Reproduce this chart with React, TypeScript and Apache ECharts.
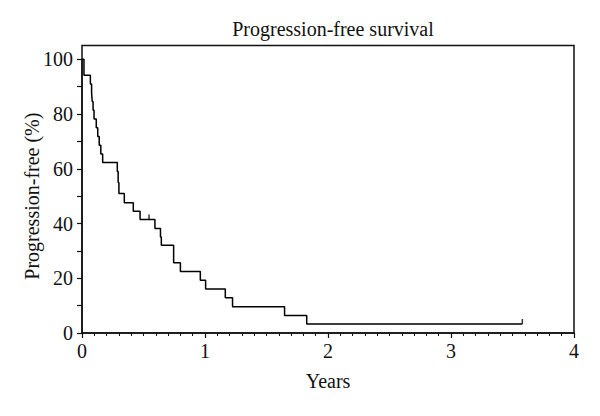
import React, { useEffect, useRef } from "react";
import * as echarts from "echarts";

const titleText = "Progression-free survival";
const xName = "Years";
const yName = "Progression-free (%)";

// Kaplan-Meier step points (time in years, survival %)
const times = [0, 0.016, 0.068, 0.078, 0.083, 0.09, 0.098, 0.116, 0.128, 0.14, 0.153, 0.168, 0.287, 0.294, 0.3, 0.344, 0.417, 0.472, 0.593, 0.638, 0.645, 0.745, 0.8, 0.962, 1.005, 1.165, 1.224, 1.647, 1.827, 3.58];
const survival = [100, 94.2, 91.0, 87.8, 84.6, 81.4, 78.2, 75.0, 71.8, 68.6, 65.4, 62.3, 59.0, 55.0, 51.0, 47.6, 44.5, 41.5, 38.2, 35.1, 32.1, 25.7, 22.5, 19.3, 16.1, 12.9, 9.6, 6.4, 3.3, 3.3];

// censored observations
const censorTimes = [0.545, 3.58];
const censorValues = [41.5, 3.3];

const xTicks = [0, 1, 2, 3, 4];
const yTicks = [0, 20, 40, 60, 80, 100];

const FONT = "Liberation Serif";

export default function App() {
  const ref = useRef<HTMLDivElement>(null);
  useEffect(() => {
    if (!ref.current) return;
    const chart = echarts.init(ref.current, undefined, { renderer: "svg" });
    const lineData = times.map((t, i) => [t, survival[i]]);
    const censorData = censorTimes.map((t, i) => [t, censorValues[i]]);
    chart.setOption({
      animation: false,
      backgroundColor: "#fff",
      textStyle: { fontFamily: FONT },
      title: {
        text: titleText,
        left: 328,
        top: 14,
        textAlign: "center",
        textStyle: { fontFamily: FONT, fontSize: 20, fontWeight: "normal", color: "#111" },
      },
      grid: { left: 82, right: 26, top: 59.3, bottom: 83, containLabel: false },
      xAxis: {
        type: "value",
        min: xTicks[0],
        max: xTicks[xTicks.length - 1],
        interval: 1,
        name: xName,
        nameLocation: "middle",
        nameGap: 38,
        nameMoveOverlap: false,
        nameTextStyle: { fontFamily: FONT, fontSize: 20, color: "#111" },
        axisLine: { show: true, onZero: false, lineStyle: { color: "#111", width: 1.5 } },
        axisTick: { show: true, length: 5, lineStyle: { color: "#111", width: 1.2 } },
        minorTick: { show: true, splitNumber: 10, length: 3, lineStyle: { color: "#111", width: 1 } },
        axisLabel: { fontFamily: FONT, fontSize: 20, color: "#111", margin: 8 },
        splitLine: { show: false },
      },
      yAxis: {
        type: "value",
        min: yTicks[0],
        max: yTicks[yTicks.length - 1],
        interval: 20,
        name: yName,
        nameLocation: "middle",
        nameGap: 40,
        nameMoveOverlap: false,
        nameRotate: 90,
        nameTextStyle: { fontFamily: FONT, fontSize: 20, color: "#111" },
        axisLine: { show: true, onZero: false, lineStyle: { color: "#111", width: 1.5 } },
        axisTick: { show: true, length: 5, lineStyle: { color: "#111", width: 1.2 } },
        minorTick: { show: true, splitNumber: 2, length: 5, lineStyle: { color: "#111", width: 1.2 } },
        axisLabel: { fontFamily: FONT, fontSize: 20, color: "#111", margin: 9 },
        splitLine: { show: false },
      },
      graphic: [
        {
          type: "rect",
          shape: { x: 82, y: 45.5, width: 492, height: 287.5 },
          style: { fill: "none", stroke: "#111", lineWidth: 1.5 },
          silent: true,
          z: 0,
        },
      ],
      series: [
        {
          type: "line",
          data: lineData,
          step: "end",
          showSymbol: false,
          clip: false,
          lineStyle: { color: "#000", width: 1.5 },
          z: 3,
        },
        {
          type: "scatter",
          data: censorData,
          symbol: "rect",
          symbolSize: [1.5, 5],
          symbolOffset: [0, -2.5],
          itemStyle: { color: "#000" },
          z: 4,
        },
      ],
    });
    return () => chart.dispose();
  }, []);
  return (
    <div
      ref={ref}
      style={{ position: "absolute", left: 0, top: 0, width: 600, height: 416 }}
    />
  );
}
